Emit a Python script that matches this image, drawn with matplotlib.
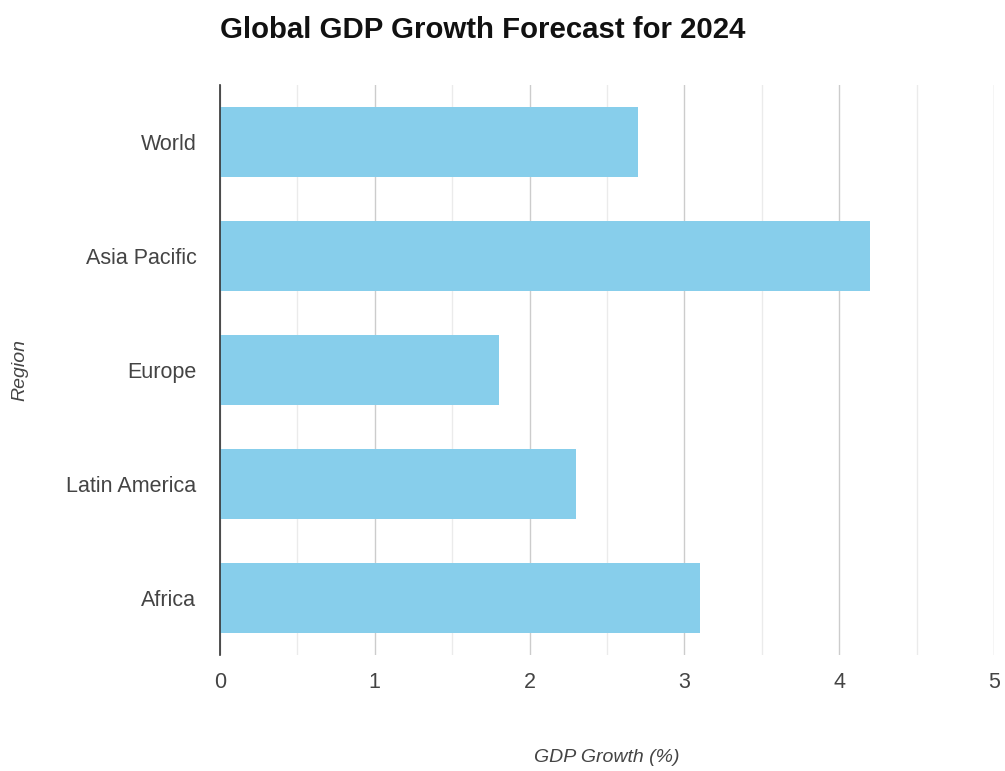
import matplotlib.pyplot as plt
from matplotlib.ticker import MultipleLocator

plt.rcParams['font.family'] = ['Liberation Sans', 'DejaVu Sans']

# data
regions = ['World', 'Asia Pacific', 'Europe', 'Latin America', 'Africa']
growth = [2.7, 4.2, 1.8, 2.3, 3.1]

W, H = 1005, 771
fig = plt.figure(figsize=(W / 100, H / 100), dpi=100)
ax = fig.add_axes([220 / W, 1 - 655 / H, (994 - 220) / W, (655 - 85) / H])

ax.barh(regions, growth, height=0.61, color='#87CEEB', zorder=3)
ax.set_ylim(4.5, -0.5)
ax.set_xlim(0, 5)

ax.xaxis.set_major_locator(MultipleLocator(1))
ax.xaxis.set_minor_locator(MultipleLocator(0.5))
ax.grid(axis='x', which='major', color='#cccccc', linewidth=1, zorder=0)
ax.grid(axis='x', which='minor', color='#ebebeb', linewidth=1, zorder=0)

for s in ['top', 'right', 'bottom']:
    ax.spines[s].set_visible(False)
ax.spines['left'].set_color('#333333')
ax.spines['left'].set_linewidth(1.2)
ax.spines['left'].set_zorder(4)

ax.tick_params(axis='both', which='both', length=0, labelsize=15.5, labelcolor='#444444')
ax.tick_params(axis='x', pad=12)
ax.tick_params(axis='y', pad=17)

# axis titles placed as figure text so they sit where the reference has them
fig.text(607 / W, 1 - 757 / H, 'GDP Growth (%)', fontsize=14, style='italic',
         color='#444444', ha='center', va='center')
fig.text(20 / W, 1 - 370 / H, 'Region', fontsize=14, style='italic',
         color='#444444', ha='center', va='center', rotation=90)

fig.text(220 / W, 1 - 30 / H, 'Global GDP Growth Forecast for 2024',
         fontsize=21.2, fontweight='bold', color='#111111', ha='left', va='center')

plt.savefig('out.png', dpi=100)
